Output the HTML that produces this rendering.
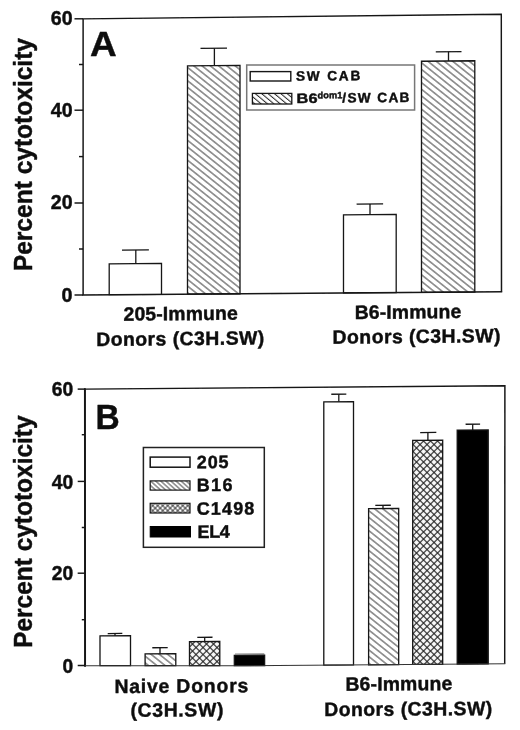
<!DOCTYPE html>
<html lang="en"><head><meta charset="utf-8"><title>Percent cytotoxicity</title>
<style>
html,body{margin:0;padding:0;background:#fff;}
body{width:520px;height:730px;overflow:hidden;}
svg{display:block;}
text{font-family:"Liberation Sans",Arial,Helvetica,sans-serif;font-weight:bold;fill:#111;stroke:#111;stroke-width:0.45px;stroke-linejoin:round;}
</style></head><body>
<svg width="520" height="730" viewBox="0 0 520 730">
<defs>
<pattern id="hatch" patternUnits="userSpaceOnUse" width="40" height="5.17" patternTransform="rotate(38.7)">
<rect width="40" height="5.17" fill="#fff"/>
<line x1="0" y1="2.6" x2="40" y2="2.6" stroke="#222" stroke-width="1"/>
</pattern>
<pattern id="cross" patternUnits="userSpaceOnUse" width="4.95" height="4.95" patternTransform="rotate(45)">
<rect width="4.95" height="4.95" fill="#fff"/>
<line x1="0" y1="2.475" x2="4.95" y2="2.475" stroke="#222" stroke-width="1.2"/>
<line x1="2.475" y1="0" x2="2.475" y2="4.95" stroke="#222" stroke-width="1.2"/>
</pattern>
<pattern id="hatchA" patternUnits="userSpaceOnUse" width="40" height="4.1" patternTransform="rotate(40)">
<rect width="40" height="4.1" fill="#fff"/>
<line x1="0" y1="2" x2="40" y2="2" stroke="#2a2a2a" stroke-width="1"/>
</pattern>
<pattern id="hatchB" patternUnits="userSpaceOnUse" width="40" height="3.4" patternTransform="rotate(42)">
<rect width="40" height="3.4" fill="#fff"/>
<line x1="0" y1="1.7" x2="40" y2="1.7" stroke="#2a2a2a" stroke-width="1"/>
</pattern>
<pattern id="crossB" patternUnits="userSpaceOnUse" width="3.54" height="3.54" patternTransform="rotate(45)">
<rect width="3.54" height="3.54" fill="#fff"/>
<line x1="0" y1="1.77" x2="3.54" y2="1.77" stroke="#222" stroke-width="0.85"/>
<line x1="1.77" y1="0" x2="1.77" y2="3.54" stroke="#222" stroke-width="0.85"/>
</pattern>
<filter id="soft" x="0" y="0" width="520" height="730" filterUnits="userSpaceOnUse"><feGaussianBlur stdDeviation="0.42"/></filter>
</defs>
<rect width="520" height="730" fill="#fff"/>
<g filter="url(#soft)">
<g id="panelA">
<line x1="135.8" y1="250" x2="135.8" y2="263.6" stroke="#141414" stroke-width="1.3"/>
<line x1="122" y1="250.13" x2="148.9" y2="249.88" stroke="#141414" stroke-width="1.3"/>
<polygon points="109.2,263.84 161.5,263.36 161.5,294.32 109.2,294.71" fill="#fff" stroke="#141414" stroke-width="1.3"/>
<line x1="214.4" y1="48.3" x2="214.4" y2="65.59" stroke="#141414" stroke-width="1.3"/>
<line x1="200.5" y1="48.43" x2="227" y2="48.18" stroke="#141414" stroke-width="1.3"/>
<polygon points="187.5,65.84 240,65.36 240,293.74 187.5,294.13" fill="url(#hatch)" stroke="#141414" stroke-width="1.3"/>
<line x1="370" y1="204" x2="370" y2="214.7" stroke="#141414" stroke-width="1.3"/>
<line x1="356.6" y1="204.12" x2="383.1" y2="203.88" stroke="#141414" stroke-width="1.3"/>
<polygon points="343.5,214.94 396.2,214.46 396.2,292.58 343.5,292.97" fill="#fff" stroke="#141414" stroke-width="1.3"/>
<line x1="448.5" y1="51.8" x2="448.5" y2="61" stroke="#141414" stroke-width="1.3"/>
<line x1="435.8" y1="51.92" x2="461.5" y2="51.68" stroke="#141414" stroke-width="1.3"/>
<polygon points="421.5,61.25 474.8,60.75 474.8,292 421.5,292.39" fill="url(#hatch)" stroke="#141414" stroke-width="1.3"/>
<polyline points="83.1,294.9 83.1,18.9 501.3,14.3 501.5,291.8" fill="none" stroke="#141414" stroke-width="1.45" stroke-linejoin="miter"/>
<polyline points="83.1,294.9 501.5,291.8" fill="none" stroke="#141414" stroke-width="1.45" stroke-linecap="square"/>
<line x1="74.5" y1="18.8" x2="83.1" y2="18.8" stroke="#141414" stroke-width="1.45"/>
<line x1="74.5" y1="110.2" x2="83.1" y2="110.2" stroke="#141414" stroke-width="1.45"/>
<line x1="74.5" y1="203" x2="83.1" y2="203" stroke="#141414" stroke-width="1.45"/>
<line x1="74.5" y1="295" x2="83.1" y2="295" stroke="#141414" stroke-width="1.45"/>
<line x1="79" y1="64.5" x2="83.1" y2="64.5" stroke="#141414" stroke-width="1.45"/>
<line x1="79" y1="156.6" x2="83.1" y2="156.6" stroke="#141414" stroke-width="1.45"/>
<line x1="79" y1="249" x2="83.1" y2="249" stroke="#141414" stroke-width="1.45"/>
<text transform="matrix(1 0.00000 0 1 50.8 25.3)" font-size="19.4" textLength="21.8" lengthAdjust="spacingAndGlyphs">60</text>
<text transform="matrix(1 0.00000 0 1 50.8 116.7)" font-size="19.4" textLength="21.8" lengthAdjust="spacingAndGlyphs">40</text>
<text transform="matrix(1 0.00000 0 1 50.8 209.2)" font-size="19.4" textLength="21.8" lengthAdjust="spacingAndGlyphs">20</text>
<text transform="matrix(1 0.00000 0 1 61.6 301.5)" font-size="19.4" textLength="11" lengthAdjust="spacingAndGlyphs">0</text>
<text transform="translate(31.7 271.2) rotate(-90)" font-size="25.2" textLength="233.2" lengthAdjust="spacingAndGlyphs">Percent cytotoxicity</text>
<text transform="matrix(1 0.00000 0 1 89.9 56.2)" font-size="35" textLength="26.7" lengthAdjust="spacingAndGlyphs">A</text>
<rect x="246.7" y="65" width="167.9" height="45" fill="#fff" stroke="#777" stroke-width="1.5"/>
<rect x="250.2" y="71.6" width="40.6" height="9.4" fill="#fff" stroke="#141414" stroke-width="1.4"/>
<rect x="252.4" y="93.4" width="39.4" height="10.6" fill="url(#hatchA)" stroke="#141414" stroke-width="1.3"/>
<text transform="matrix(1 -0.00920 0 1 295.9 80.8)" font-size="13.6" textLength="64.5" lengthAdjust="spacing">SW CAB</text>
<text transform="matrix(1 -0.00920 0 1 296.6 103)" font-size="13.6" textLength="20.9" lengthAdjust="spacingAndGlyphs">B6</text>
<text transform="matrix(1 -0.00920 0 1 317.5 98.4)" font-size="9.2" textLength="24.8" lengthAdjust="spacing">dom1</text>
<text transform="matrix(1 -0.00920 0 1 342.3 102.6)" font-size="13.6" textLength="67.1" lengthAdjust="spacing">/SW CAB</text>
<text transform="matrix(1 -0.00920 0 1 123.5 320.7)" font-size="19.4" textLength="114.4" lengthAdjust="spacing">205-Immune</text>
<text transform="matrix(1 -0.00920 0 1 96.2 346)" font-size="19.4" textLength="168.1" lengthAdjust="spacing">Donors (C3H.SW)</text>
<text transform="matrix(1 -0.00920 0 1 354.7 319)" font-size="19.4" textLength="106.7" lengthAdjust="spacing">B6-Immune</text>
<text transform="matrix(1 -0.00920 0 1 332.6 343.7)" font-size="19.4" textLength="167.8" lengthAdjust="spacing">Donors (C3H.SW)</text>
</g>
<g id="panelB">
<line x1="115" y1="633.5" x2="115" y2="635.8" stroke="#141414" stroke-width="1.3"/>
<line x1="107.7" y1="633.55" x2="122.3" y2="633.45" stroke="#141414" stroke-width="1.3"/>
<polygon points="100,635.89 130.5,635.71 130.5,665.7 100,665.7" fill="#fff" stroke="#141414" stroke-width="1.3"/>
<line x1="160" y1="647.7" x2="160" y2="653.8" stroke="#141414" stroke-width="1.3"/>
<line x1="152.3" y1="647.75" x2="167.7" y2="647.65" stroke="#141414" stroke-width="1.3"/>
<polygon points="145.1,653.9 175.8,653.7 175.8,665.7 145.1,665.7" fill="url(#hatch)" stroke="#141414" stroke-width="1.3"/>
<line x1="204.7" y1="637.3" x2="204.7" y2="641.6" stroke="#141414" stroke-width="1.3"/>
<line x1="197.3" y1="637.35" x2="212.5" y2="637.25" stroke="#141414" stroke-width="1.3"/>
<polygon points="189.5,641.69 219.8,641.51 219.8,665.7 189.5,665.7" fill="url(#cross)" stroke="#141414" stroke-width="1.3"/>
<line x1="235" y1="654" x2="264.3" y2="653.9" stroke="#8a8a8a" stroke-width="1.2"/>
<polygon points="234.3,655.29 264.6,655.11 264.6,665.56 234.3,665.7" fill="#000" stroke="#141414" stroke-width="1.3"/>
<line x1="338.8" y1="394.2" x2="338.8" y2="401.7" stroke="#141414" stroke-width="1.3"/>
<line x1="331.3" y1="394.25" x2="346.3" y2="394.15" stroke="#141414" stroke-width="1.3"/>
<polygon points="323.8,401.79 353.5,401.61 353.5,664.91 323.8,665.12" fill="#fff" stroke="#141414" stroke-width="1.3"/>
<line x1="383" y1="505.3" x2="383" y2="508.5" stroke="#141414" stroke-width="1.3"/>
<line x1="375.3" y1="505.35" x2="390.8" y2="505.25" stroke="#141414" stroke-width="1.3"/>
<polygon points="368.6,508.59 398.7,508.41 398.7,664.58 368.6,664.8" fill="url(#hatch)" stroke="#141414" stroke-width="1.3"/>
<line x1="427.9" y1="432.5" x2="427.9" y2="440.2" stroke="#141414" stroke-width="1.3"/>
<line x1="420.2" y1="432.55" x2="436.3" y2="432.45" stroke="#141414" stroke-width="1.3"/>
<polygon points="412.7,440.29 442.7,440.11 442.7,664.25 412.7,664.47" fill="url(#cross)" stroke="#141414" stroke-width="1.3"/>
<line x1="472.7" y1="424.2" x2="472.7" y2="430" stroke="#141414" stroke-width="1.3"/>
<line x1="465.6" y1="424.24" x2="480.1" y2="424.15" stroke="#141414" stroke-width="1.3"/>
<polygon points="457.2,430.1 488.2,429.9 488.2,663.92 457.2,664.15" fill="#000" stroke="#141414" stroke-width="1.3"/>
<polyline points="85.1,665.7 84.9,389.1 504.9,385.8 504.7,663.8" fill="none" stroke="#141414" stroke-width="1.45" stroke-linejoin="miter"/>
<line x1="84.9" y1="389.1" x2="85.1" y2="665.7" stroke="#141414" stroke-width="1.9" stroke-linecap="square"/>
<polyline points="85.1,665.7 245,665.7 504.7,663.8" fill="none" stroke="#333" stroke-width="1.1" stroke-linecap="square"/>
<line x1="77.7" y1="389.1" x2="85" y2="389.1" stroke="#141414" stroke-width="1.45"/>
<line x1="77.7" y1="481.4" x2="85" y2="481.4" stroke="#141414" stroke-width="1.45"/>
<line x1="77.7" y1="573.2" x2="85" y2="573.2" stroke="#141414" stroke-width="1.45"/>
<line x1="77.7" y1="665.5" x2="85" y2="665.5" stroke="#141414" stroke-width="1.45"/>
<line x1="81.8" y1="434.7" x2="85" y2="434.7" stroke="#141414" stroke-width="1.45"/>
<line x1="81.8" y1="527.5" x2="85" y2="527.5" stroke="#141414" stroke-width="1.45"/>
<line x1="81.8" y1="619.7" x2="85" y2="619.7" stroke="#141414" stroke-width="1.45"/>
<text transform="matrix(1 0.00000 0 1 51.7 396)" font-size="19.4" textLength="21.5" lengthAdjust="spacingAndGlyphs">60</text>
<text transform="matrix(1 0.00000 0 1 51.7 488.6)" font-size="19.4" textLength="21.5" lengthAdjust="spacingAndGlyphs">40</text>
<text transform="matrix(1 0.00000 0 1 51.7 580.3)" font-size="19.4" textLength="21.5" lengthAdjust="spacingAndGlyphs">20</text>
<text transform="matrix(1 0.00000 0 1 62.5 672.7)" font-size="19.4" textLength="10.7" lengthAdjust="spacingAndGlyphs">0</text>
<text transform="translate(31.9 647.9) rotate(-90)" font-size="25.2" textLength="232.5" lengthAdjust="spacingAndGlyphs">Percent cytotoxicity</text>
<text transform="matrix(1 0.00000 0 1 95.4 428.8)" font-size="35" textLength="24.2" lengthAdjust="spacingAndGlyphs">B</text>
<rect x="143.4" y="447.5" width="120.9" height="99.8" fill="#fff" stroke="#222" stroke-width="1.5"/>
<rect x="150.2" y="457.1" width="39.8" height="10.1" fill="#fff" stroke="#141414" stroke-width="1.5"/>
<rect x="150.2" y="480.9" width="39.8" height="9.2" fill="url(#hatchB)" stroke="#141414" stroke-width="1.2"/>
<rect x="150.2" y="503.3" width="39.8" height="9.7" fill="url(#crossB)" stroke="#141414" stroke-width="1.2"/>
<rect x="150.2" y="526.5" width="40.3" height="10.5" fill="#000" stroke="#000" stroke-width="1"/>
<text transform="matrix(1 -0.00619 0 1 196.7 468.2)" font-size="18" textLength="31.9" lengthAdjust="spacing">205</text>
<text transform="matrix(1 -0.00619 0 1 196.7 491.2)" font-size="18" textLength="35.9" lengthAdjust="spacing">B16</text>
<text transform="matrix(1 -0.00619 0 1 196.7 514.8)" font-size="18" textLength="57.7" lengthAdjust="spacing">C1498</text>
<text transform="matrix(1 -0.00619 0 1 197.5 537.9)" font-size="18" textLength="32.4" lengthAdjust="spacing">EL4</text>
<text transform="matrix(1 -0.00619 0 1 114.4 693)" font-size="19.4" textLength="133.9" lengthAdjust="spacing">Naive Donors</text>
<text transform="matrix(1 -0.00619 0 1 130.4 716.8)" font-size="19.4" textLength="93" lengthAdjust="spacing">(C3H.SW)</text>
<text transform="matrix(1 -0.00619 0 1 345.4 690.7)" font-size="19.4" textLength="106.9" lengthAdjust="spacing">B6-Immune</text>
<text transform="matrix(1 -0.00619 0 1 324.3 716.1)" font-size="19.4" textLength="167.8" lengthAdjust="spacing">Donors (C3H.SW)</text>
</g>
</g>
</svg></body></html>
